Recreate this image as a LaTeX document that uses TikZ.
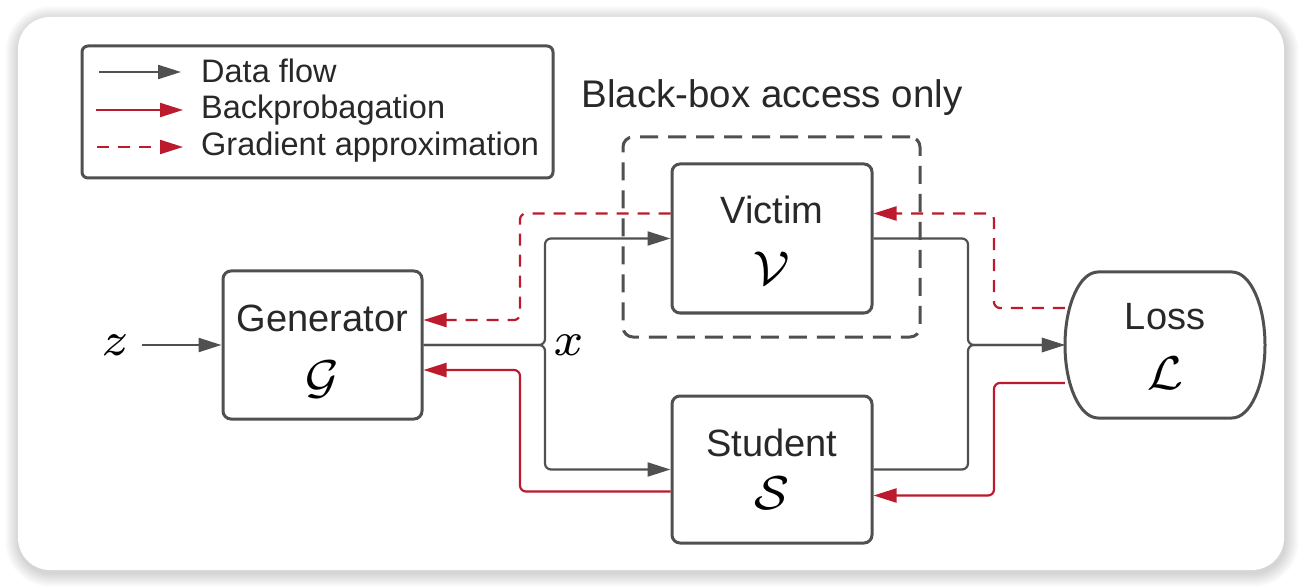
\documentclass[tikz,border=0pt]{standalone}
\usepackage{graphicx}
\usepackage{fontspec}
\setmainfont{Liberation Sans}
\usetikzlibrary{arrows.meta,calc}
\definecolor{ln}{RGB}{80,80,80}
\definecolor{tx}{RGB}{40,40,40}
\definecolor{rd}{RGB}{187,27,44}
\newcommand{\hugemath}[1]{\scalebox{6.8}{$\scriptstyle #1$}}
\tikzset{
  box/.style={draw=ln, line width=3pt, rounded corners=8pt, fill=white,
    minimum width=199pt, minimum height=148pt, inner sep=0pt},
  lbl/.style={font=\fontsize{38}{38}\selectfont, text=tx, anchor=base, inner sep=0pt},
  sym/.style={text=black, anchor=base, inner sep=0pt},
  legt/.style={font=\fontsize{32.5}{32.5}\selectfont, text=tx, anchor=base west, inner sep=0pt},
  flow/.style={draw=ln, line width=2.2pt, rounded corners=6pt,
    -{Triangle[length=23pt,width=14pt]}},
  back/.style={draw=rd, line width=2.2pt, rounded corners=6pt,
    -{Triangle[length=23pt,width=14pt]}},
  grad/.style={back, dash pattern=on 12pt off 9pt},
}
\begin{document}
\begin{tikzpicture}[x=1pt,y=-1pt]
\useasboundingbox (0,0) rectangle (1302,588);
% card shadow
\foreach \i in {1,...,14}{
  \pgfmathsetmacro{\r}{32+\i}
  \fill[black,opacity=0.011,rounded corners=\r pt] (18-\i+1,17-\i+3) rectangle (1284+\i+1,570+\i+3);
}
\fill[white, rounded corners=32pt] (18,17) rectangle (1284,570);

% legend
\node[draw=ln, line width=3pt, rounded corners=6pt, minimum width=471pt, minimum height=132pt, inner sep=0pt] (leg) at (317.5,112) {};
\coordinate (la1) at (99,72);  \coordinate (lb1) at (181,72);
\coordinate (la2) at (96,110); \coordinate (lb2) at (183,110);
\coordinate (la3) at (97,147); \coordinate (lb3) at (183,147);
\draw[flow] (la1) -- (lb1);
\draw[back] (la2) -- (lb2);
\draw[grad] (la3) -- (lb3);
\node[legt] (lt1) at (201,83) {Data flow};
\node[legt] (lt2) at (201,119) {Backprobagation};
\node[legt] (lt3) at (201,156) {Gradient approximation};

% black-box region
\node[font=\fontsize{38.5}{38.5}\selectfont, text=tx, anchor=base, inner sep=0pt] (bbt) at (772,108) {Black-box access only};
\node[draw=ln, line width=3pt, dash pattern=on 18pt off 10pt, rounded corners=10pt,
  minimum width=297pt, minimum height=200pt, inner sep=0pt] (bb) at (771.5,237) {};

% boxes
\node[box] (gen) at (322.5,345) {};
\node[box, minimum width=200pt, minimum height=149pt] (victim) at (772,238.5) {};
\node[box, minimum width=200pt, minimum height=147pt] (student) at (772,469.5) {};
\node[minimum width=200pt, minimum height=146pt, inner sep=0pt] (loss) at (1165,345) {};

\node[lbl] (genl) at (322.5,331) {Generator};
\node[sym] (gens) at (322.5,393) {\hugemath{\mathcal{G}}};
\node[lbl] (vicl) at (772,224) {Victim};
\node[sym] (vics) at (772,284) {\hugemath{\mathcal{V}}};
\node[lbl] (stul) at (772,456) {Student};
\node[sym] (stus) at (772,509) {\hugemath{\mathcal{S}}};

\node[inner sep=13pt] (z) at (115,345) {\hugemath{z}};
\node[inner sep=0pt] (xl) at (568.5,345) {\hugemath{x}};

% junction coordinates
\coordinate (xj) at (545,345);
\coordinate (yj) at (968,345);
\coordinate (gl1) at (520,300);
\coordinate (gl2) at (520,400);
\coordinate (gr1) at (994,260);
\coordinate (gr2) at (994,430);

% data flow
\draw[flow] (z.east) -- (z.east -| gen.west);
\draw[flow] (gen.east) -- (xj) |- (victim.west);
\draw[flow] (gen.east) -- (xj) |- (student.west);
\draw[flow] (victim.east) -| (yj) -- (loss.west);
\draw[flow] (student.east) -| (yj) -- (loss.west);

% gradients
\draw[grad] ([yshift=25pt]victim.west) -| (gl1) |- ([yshift=25pt]gen.east);
\draw[back] ([yshift=-22pt]student.west) -| (gl2) |- ([yshift=-25pt]gen.east);
\draw[grad] ([yshift=37pt]loss.west) -| (gr1) |- ([yshift=25pt]victim.east);
\draw[back] ([yshift=-38pt]loss.west) -| (gr2) |- ([yshift=-26pt]student.east);

% loss shape
\draw[draw=ln, line width=3pt, fill=white]
  (1098,272) -- (1232,272)
  .. controls (1250.2,272) and (1265,304.7) .. (1265,345)
  .. controls (1265,385.3) and (1250.2,418) .. (1232,418)
  -- (1098,418)
  .. controls (1079.8,418) and (1065,385.3) .. (1065,345)
  .. controls (1065,304.7) and (1079.8,272) .. (1098,272) -- cycle;
\node[lbl] (lossl) at (1165,330) {Loss};
\node[sym] (losss) at (1165,389) {\hugemath{\mathcal{L}}};
\end{tikzpicture}
\end{document}
